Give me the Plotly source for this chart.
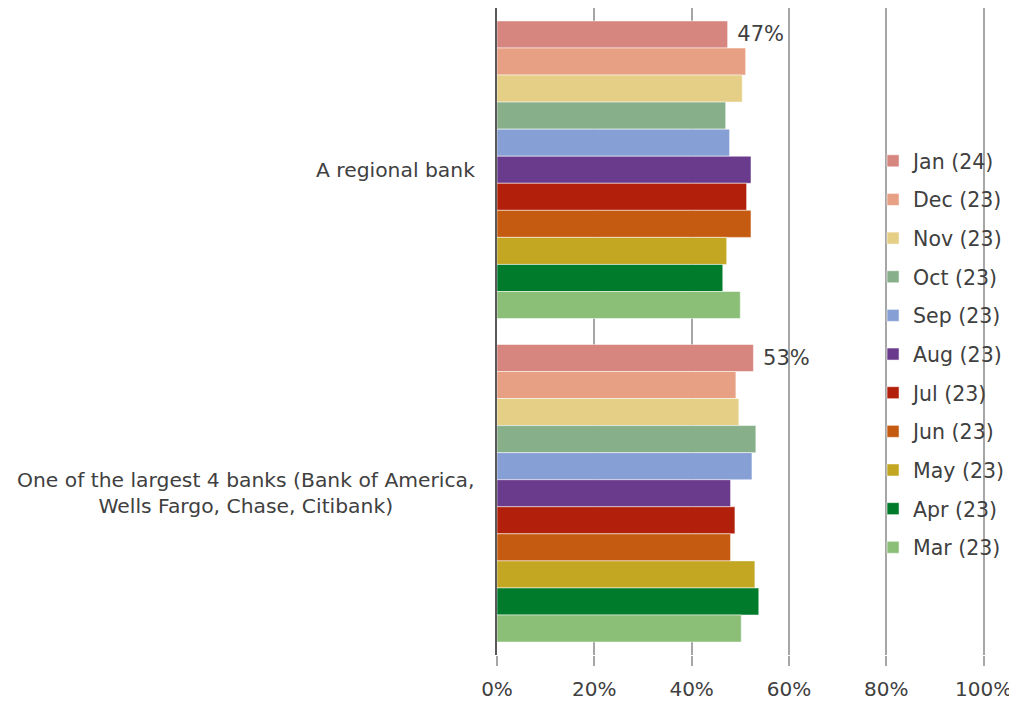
import plotly.graph_objects as go

categories = ["A regional bank",
              "One of the largest 4 banks (Bank of America,<br>Wells Fargo, Chase, Citibank)"]
months = ["Jan (24)", "Dec (23)", "Nov (23)", "Oct (23)", "Sep (23)", "Aug (23)",
          "Jul (23)", "Jun (23)", "May (23)", "Apr (23)", "Mar (23)"]
regional = [47.4, 51.1, 50.4, 47.0, 47.8, 52.2, 51.3, 52.2, 47.2, 46.4, 50.0]
largest4 = [52.7, 49.1, 49.7, 53.2, 52.4, 48.0, 48.9, 48.0, 53.0, 53.8, 50.2]
colors = ["#d6857f", "#e8a084", "#e5cf87", "#86af8a", "#869fd4", "#6a3a8c",
          "#b21f0a", "#c55a11", "#c3a622", "#007a2b", "#8bbf78"]
tick_vals = [0, 20, 40, 60, 80, 100]
tick_text = ["0%", "20%", "40%", "60%", "80%", "100%"]

FONT = "DejaVu Sans"
TXT = "#404040"

fig = go.Figure()
for i, m in enumerate(months):
    vals = [regional[i], largest4[i]]
    kw = {}
    if i == 0:
        kw = dict(text=["\u00a0" + f"{round(v)}%" for v in vals], textposition="outside",
                  textfont=dict(family=FONT, size=21, color=TXT), cliponaxis=False)
    fig.add_trace(go.Bar(
        y=categories, x=vals, orientation="h", name=m,
        marker=dict(color=colors[i], line=dict(color="rgba(255,255,255,0.5)", width=1)),
        legendgroup=m, hoverinfo="skip", **kw))

for c in categories:
    fig.add_annotation(xref="paper", yref="y", x=0, y=c, text=c, showarrow=False,
                       xanchor="right", xshift=-20, align="center",
                       font=dict(family=FONT, size=20.3, color=TXT))

fig.update_layout(
    width=1017, height=701,
    margin=dict(l=489, r=39, t=0, b=54, autoexpand=False),
    plot_bgcolor="white", paper_bgcolor="white",
    barmode="group", bargap=0.08, bargroupgap=0,
    font=dict(family=FONT, size=20, color=TXT),
    showlegend=True,
    legend=dict(x=0.769, xanchor="left", y=0.4645, yanchor="middle",
                bgcolor="rgba(0,0,0,0)", tracegroupgap=9,
                font=dict(family=FONT, size=20.5, color=TXT),
                itemwidth=30),
    xaxis=dict(range=[0, 100.5], tickvals=tick_vals, ticktext=tick_text,
               showgrid=True, gridcolor="#a6a6a6", gridwidth=1.5,
               ticks="outside", ticklen=10, tickcolor="#a6a6a6", tickwidth=1.5,
               ticklabelstandoff=6,
               zeroline=False, showline=False,
               tickfont=dict(family=FONT, size=20, color=TXT)),
    yaxis=dict(autorange="reversed", showticklabels=False, ticks="",
               showline=True, linecolor="#595959", linewidth=1.5,
               showgrid=False, zeroline=False),
)

fig.write_html("out.html")
